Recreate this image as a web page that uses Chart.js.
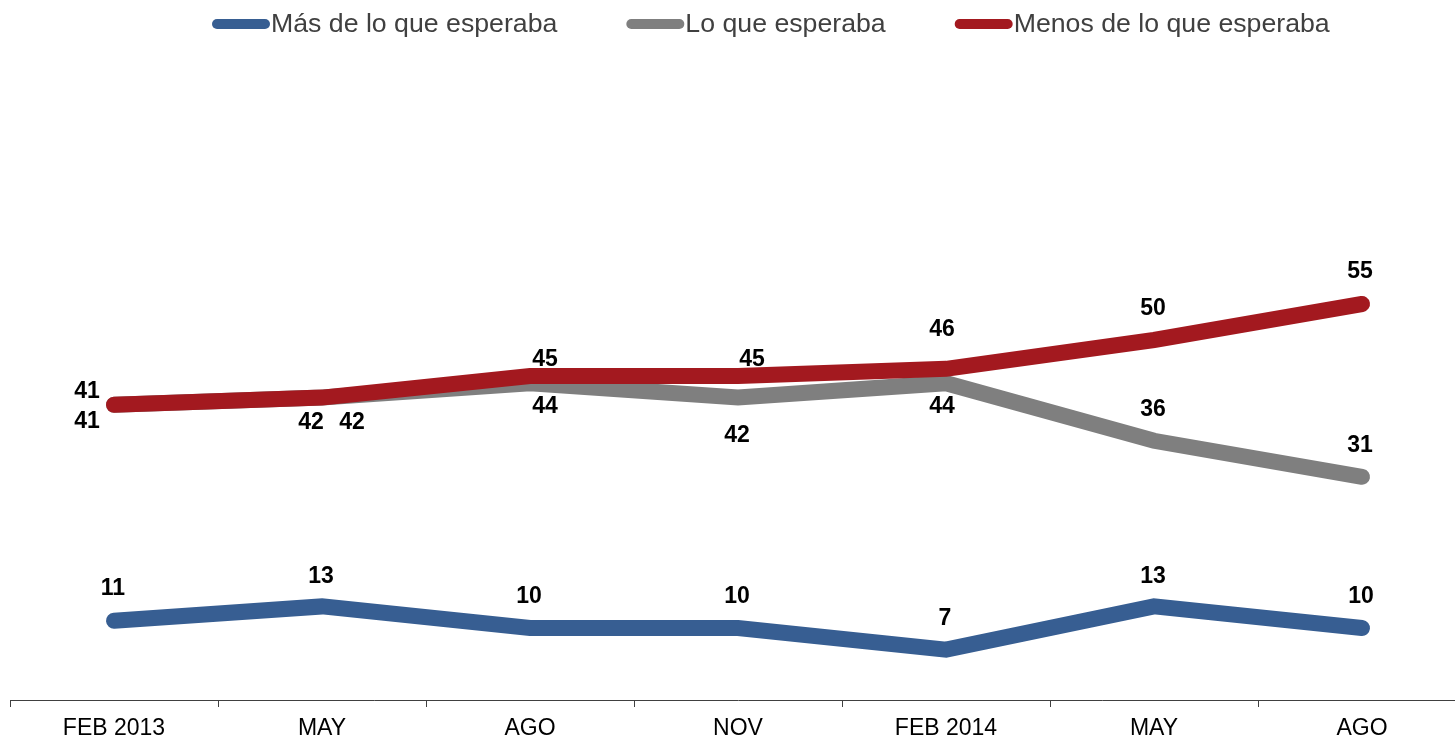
<!DOCTYPE html>
<html>
<head>
<meta charset="utf-8">
<script src="https://cdn.jsdelivr.net/npm/chart.js@4.4.1/dist/chart.umd.min.js"></script>
<style>
  html, body { margin: 0; padding: 0; background: #fff; overflow: hidden; }
  #wrap { width: 1470px; height: 742px; }
</style>
</head>
<body>
<div id="wrap"><canvas id="grafico" width="1470" height="742"></canvas></div>
<script>
// datos
const periodos = ["FEB 2013", "MAY", "AGO", "NOV", "FEB 2014", "MAY", "AGO"];
const masDeLoEsperado = [11, 13, 10, 10, 7, 13, 10];
const loEsperado = [41, 42, 44, 42, 44, 36, 31];
const menosDeLoEsperado = [41, 42, 45, 45, 46, 50, 55];

const nombres = ["Más de lo que esperaba", "Lo que esperaba", "Menos de lo que esperaba"];
const colores = ["#375E92", "#7F7F7F", "#A3191F"];

// desplazamiento de las etiquetas respecto al punto (x, y)
const etiquetasDx = [
    [-1, -1, -1, -1, -1, -1, -1],
    [-27, 30, 15, -1, -4, -1, -2],
    [-27, -11, 15, 14, -4, -1, -2]
];
const etiquetasDy = [
    [-32, -30, -31, -31, -31, -30, -31],
    [17, 25, 23, 38, 23, -31, -31],
    [-13, 25, -16, -16, -39, -31, -32]
];

const fuente = "'Liberation Sans', Arial, sans-serif";

// etiquetas de valores sobre cada punto
const pluginEtiquetas = {
    id: "etiquetas",
    afterDatasetsDraw(chart) {
        const ctx = chart.ctx;
        ctx.save();
        ctx.font = "bold 23px " + fuente;
        ctx.fillStyle = "#000";
        ctx.textAlign = "center";
        ctx.textBaseline = "middle";
        chart.data.datasets.forEach((ds, i) => {
            const meta = chart.getDatasetMeta(i);
            meta.data.forEach((pt, j) => {
                ctx.fillText(String(ds.data[j]), pt.x + etiquetasDx[i][j], pt.y + etiquetasDy[i][j]);
            });
        });
        ctx.restore();
    }
};

// leyenda dibujada arriba
const pluginLeyenda = {
    id: "leyenda",
    afterDraw(chart) {
        const ctx = chart.ctx;
        ctx.save();
        ctx.font = "26.7px " + fuente;
        ctx.textBaseline = "middle";
        ctx.lineCap = "round";
        ctx.lineWidth = 10;
        let x = 212;
        const y = 24;
        chart.data.datasets.forEach((ds, i) => {
            ctx.strokeStyle = colores[i];
            ctx.beginPath();
            ctx.moveTo(x + 5, y);
            ctx.lineTo(x + 53, y);
            ctx.stroke();
            ctx.fillStyle = "#404040";
            ctx.fillText(ds.label, x + 59, y + 1);
            x += 59 + ctx.measureText(ds.label).width + 69;
        });
        ctx.restore();
    }
};

function serie(i, datos, orden) {
    return {
        label: nombres[i],
        data: datos,
        borderColor: colores[i],
        backgroundColor: colores[i],
        borderWidth: 16,
        borderCapStyle: "round",
        pointRadius: 0,
        pointHoverRadius: 0,
        tension: 0,
        order: orden
    };
}

new Chart(document.getElementById("grafico"), {
    type: "line",
    data: {
        labels: periodos,
        datasets: [
            serie(0, masDeLoEsperado, 2),
            serie(1, loEsperado, 1),
            serie(2, menosDeLoEsperado, 0)
        ]
    },
    options: {
        responsive: false,
        animation: false,
        layout: { padding: { top: 124, left: 10, right: 4, bottom: 0 } },
        plugins: {
            legend: { display: false },
            tooltip: { enabled: false }
        },
        scales: {
            x: {
                offset: true,
                grid: {
                    offset: true,
                    drawOnChartArea: false,
                    drawTicks: true,
                    tickLength: 7,
                    color: "#404040"
                },
                border: { display: true, color: "#404040", width: 1 },
                ticks: {
                    color: "#000",
                    font: { family: fuente, size: 23 },
                    padding: 8,
                    maxRotation: 0,
                    autoSkip: false
                },
                afterFit(scale) { scale.height = 42; }
            },
            y: {
                display: false,
                min: 0,
                max: 80
            }
        }
    },
    plugins: [pluginEtiquetas, pluginLeyenda]
});
</script>
</body>
</html>
